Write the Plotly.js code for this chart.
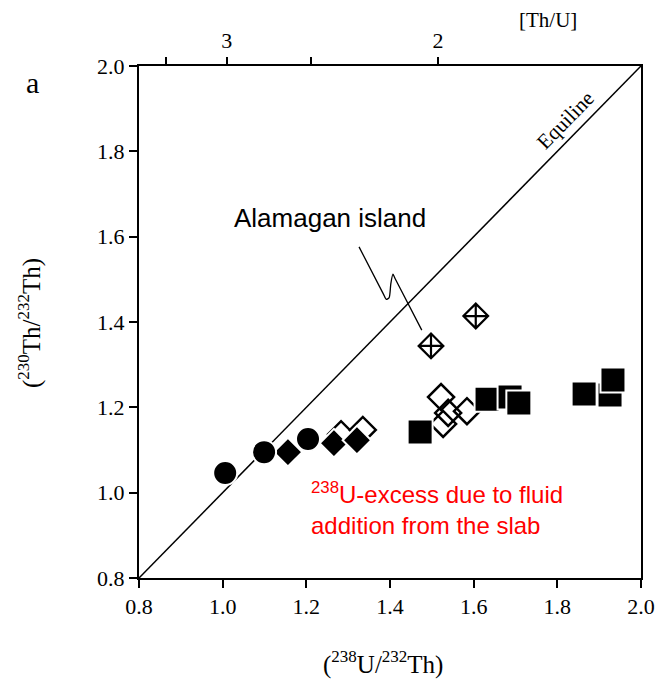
<!DOCTYPE html>
<html>
<head>
<meta charset="utf-8">
<script src="https://cdn.plot.ly/plotly-3.0.1.min.js"></script>
<style>html,body{margin:0;padding:0;background:#fff;}#chart{width:657px;height:680px;}</style>
</head>
<body>
<div id="chart"></div>
<script>
// ---- data (activity ratios) ----
const equiline = [0.8, 2.0];
const circleX = [1.006, 1.099, 1.204];
const circleY = [1.046, 1.095, 1.126];
const filledDiamondX = [1.156, 1.266, 1.321];
const filledDiamondY = [1.095, 1.116, 1.123];
const openDiamondX = [1.283, 1.335, 1.522, 1.539, 1.584, 1.527];
const openDiamondY = [1.137, 1.147, 1.224, 1.187, 1.191, 1.161];
const crossDiamondX = [1.498, 1.605];
const crossDiamondY = [1.344, 1.414];
const squareX = [1.472, 1.632, 1.687, 1.708, 1.864, 1.926, 1.933];
const squareY = [1.142, 1.219, 1.224, 1.210, 1.231, 1.229, 1.264];
// top axis: Th/U ratios
const thuTicks = [3.5, 3, 2.5, 2];
const thuLabels = ['', '3', '', '2'];
const axisTicks = [0.8, 1.0, 1.2, 1.4, 1.6, 1.8, 2.0];
// leader line from "Alamagan island" label (data coords)
const leaderX = [1.326, 1.384, 1.391, 1.398, 1.402, 1.407, 1.413, 1.476];
const leaderY = [1.576, 1.466, 1.453, 1.457, 1.490, 1.512, 1.500, 1.381];

const serif = 'Liberation Serif, Times New Roman, serif';
const sans = 'Liberation Sans, Arial, sans-serif';
const sup = s => '<sup><span style="font-size:17px">' + s + '</span></sup>';

const traces = [
  {x: equiline, y: equiline, mode: 'lines', line: {color: 'black', width: 1.5}, hoverinfo: 'skip'},
  {x: equiline, y: equiline, xaxis: 'x2', mode: 'lines', opacity: 0, hoverinfo: 'skip'},
  {x: leaderX, y: leaderY, mode: 'lines', line: {color: 'black', width: 1.3, shape: 'spline', smoothing: 0.6}, hoverinfo: 'skip'},
  {x: openDiamondX, y: openDiamondY, mode: 'markers',
   marker: {symbol: 'diamond-open', size: 20, color: 'black', line: {width: 2.5, color: 'black'}}},
  {x: crossDiamondX, y: crossDiamondY, mode: 'markers',
   marker: {symbol: 'diamond-cross-open', size: 19, color: 'black', line: {width: 2.2, color: 'black'}}},
  {x: filledDiamondX, y: filledDiamondY, mode: 'markers',
   marker: {symbol: 'diamond', size: 22, color: 'black', line: {width: 2, color: 'white'}}},
  {x: circleX, y: circleY, mode: 'markers',
   marker: {symbol: 'circle', size: 24, color: 'black', line: {width: 2, color: 'white'}}},
  {x: squareX, y: squareY, mode: 'markers',
   marker: {symbol: 'square', size: 25, color: 'black', line: {width: 2, color: 'white'}}}
];

const axisCommon = {
  range: [0.8, 2.0], showgrid: false, zeroline: false,
  showline: true, linecolor: 'black', linewidth: 2, mirror: true,
  ticks: 'outside', ticklen: 8, tickwidth: 2, tickcolor: 'black',
  tickvals: axisTicks, ticktext: axisTicks.map(v => v.toFixed(1)),
  tickfont: {family: serif, size: 22, color: 'black'}
};

const layout = {
  width: 657, height: 680,
  margin: {l: 139, r: 16, t: 66, b: 102},
  paper_bgcolor: 'white', plot_bgcolor: 'white',
  showlegend: false,
  xaxis: Object.assign({}, axisCommon),
  yaxis: Object.assign({}, axisCommon),
  xaxis2: {
    overlaying: 'x', side: 'top', anchor: 'y', range: [0.8, 2.0],
    showgrid: false, zeroline: false, showline: false,
    ticks: 'outside', ticklen: 8, tickwidth: 2, tickcolor: 'black',
    tickvals: thuTicks.map(t => 3.03 / t), ticktext: thuLabels,
    tickfont: {family: serif, size: 22, color: 'black'}
  },
  annotations: [
    {xref: 'paper', yref: 'paper', x: -0.213, y: 0.967, text: 'a', showarrow: false,
     font: {family: serif, size: 30, color: 'black'}, xanchor: 'center', yanchor: 'middle'},
    {xref: 'paper', yref: 'paper', x: 0.815, y: 1.090, text: '[Th/U]', showarrow: false,
     font: {family: serif, size: 21, color: 'black'}, xanchor: 'center', yanchor: 'middle'},
    {xref: 'paper', yref: 'paper', x: 0.486, y: -0.166, text: '(' + sup('238') + 'U/' + sup('232') + 'Th)', showarrow: false,
     font: {family: serif, size: 25, color: 'black'}, xanchor: 'center', yanchor: 'middle'},
    {xref: 'paper', yref: 'paper', x: -0.217, y: 0.498, text: '(' + sup('230') + 'Th/' + sup('232') + 'Th)', showarrow: false,
     textangle: -90, font: {family: serif, size: 25, color: 'black'}, xanchor: 'center', yanchor: 'middle'},
    {xref: 'x', yref: 'y', x: 1.82, y: 1.873, text: 'Equiline', showarrow: false, textangle: -45.6,
     font: {family: serif, size: 21, color: 'black'}, xanchor: 'center', yanchor: 'middle'},
    {xref: 'x', yref: 'y', x: 1.256, y: 1.644, text: 'Alamagan island', showarrow: false,
     font: {family: sans, size: 26, color: 'black'}, xanchor: 'center', yanchor: 'middle'},
    {xref: 'x', yref: 'y', x: 1.206, y: 0.964, text: '<sup>238</sup>U-excess due to fluid<br>addition from the slab',
     showarrow: false, align: 'left', font: {family: sans, size: 24, color: 'red'}, xanchor: 'left', yanchor: 'middle'}
  ]
};

Plotly.newPlot('chart', traces, layout, {staticPlot: true, displayModeBar: false});
</script>
</body>
</html>
